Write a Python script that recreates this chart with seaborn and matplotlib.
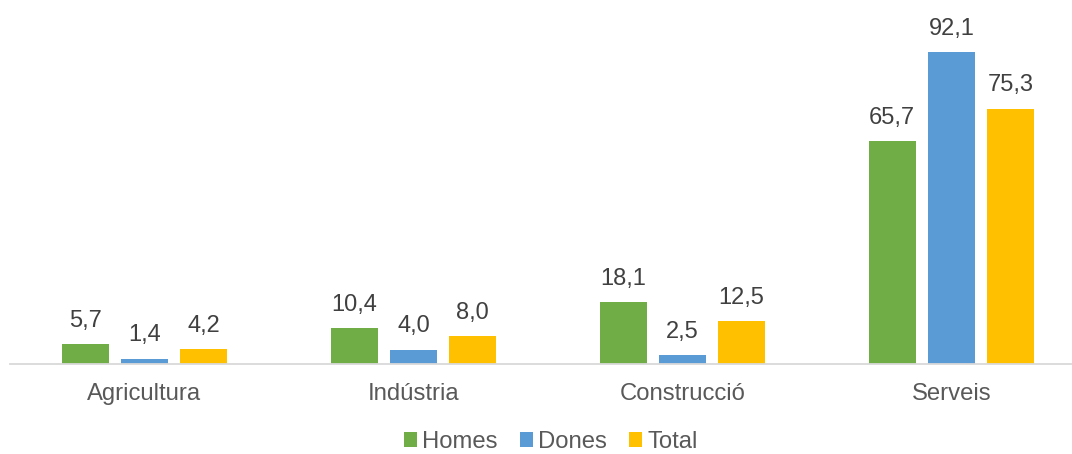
import matplotlib
matplotlib.use("Agg")
import matplotlib.pyplot as plt
from matplotlib.patches import Patch
import pandas as pd
import seaborn as sns

sectors = ["Agricultura", "Indústria", "Construcció", "Serveis"]
series = ["Homes", "Dones", "Total"]
homes = [5.7, 10.4, 18.1, 65.7]
dones = [1.4, 4.0, 2.5, 92.1]
total = [4.2, 8.0, 12.5, 75.3]
colors = ["#70AD47", "#5B9BD5", "#FFC000"]

df = pd.DataFrame({
    "sector": sectors * 3,
    "serie": [s for s in series for _ in sectors],
    "valor": homes + dones + total,
})

sns.set_style("white")
plt.rcParams["font.family"] = ["Liberation Sans", "DejaVu Sans"]

fig = plt.figure(figsize=(10.72, 4.54), dpi=100)
ax = fig.add_axes([10 / 1072, 90.5 / 454, 1 - 10 / 1072, 338 / 454])

sns.barplot(data=df, x="sector", y="valor", hue="serie", order=sectors,
            hue_order=series, palette=colors, saturation=1,
            width=0.66, gap=0.2, legend=False, ax=ax, edgecolor="none")

# etiquetes de dades amb coma decimal
for cont in ax.containers:
    labs = [f"{v:.1f}".replace(".", ",") for v in cont.datavalues]
    ax.bar_label(cont, labels=labs, padding=9, fontsize=17, color="#404040")

ax.set_ylim(0, 100)
ax.set_xlim(-0.5, 3.448)
ax.set_xlabel("")
ax.set_ylabel("")
ax.set_yticks([])
for s in ["top", "left", "right"]:
    ax.spines[s].set_visible(False)
ax.spines["bottom"].set_color("#D9D9D9")
ax.spines["bottom"].set_linewidth(1.3)
ax.tick_params(axis="x", length=0, pad=14, labelsize=17.2, labelcolor="#595959")

handles = [Patch(facecolor=c, edgecolor="none", label=l) for c, l in zip(colors, series)]
fig.legend(handles=handles, loc="center", bbox_to_anchor=(551 / 1072, 12 / 454),
           ncol=3, frameon=False, fontsize=17.2, labelcolor="#595959",
           handlelength=0.55, handleheight=0.55, handletextpad=0.21,
           columnspacing=0.93, borderaxespad=0, borderpad=0)

fig.savefig("out.png", dpi=100)
